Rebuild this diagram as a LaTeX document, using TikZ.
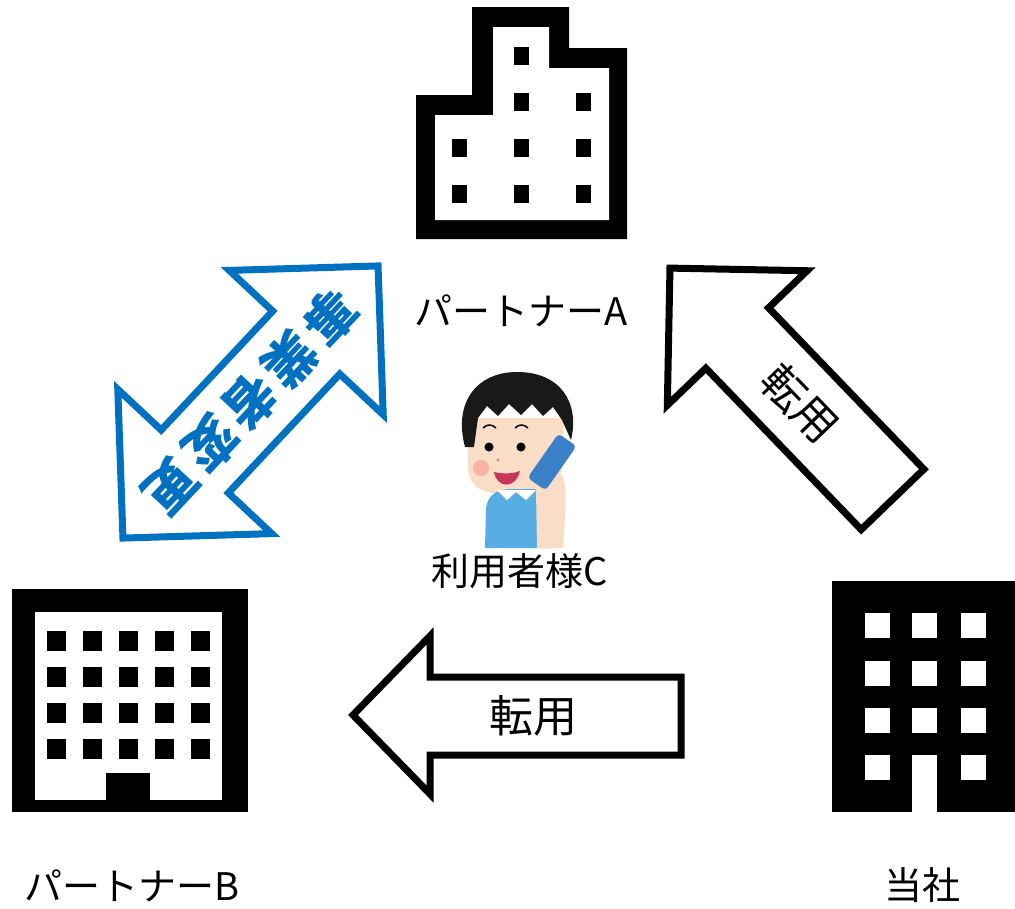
\documentclass[tikz,border=0pt]{standalone}
\usepackage{fontspec}
\usepackage{tikz}
\usetikzlibrary{positioning}

\newfontfamily\jpfont{Noto Sans CJK JP}

\definecolor{bizblue}{HTML}{0070C0}
\definecolor{skin}{HTML}{FADDC6}
\definecolor{cheek}{HTML}{F6B3A6}
\definecolor{shirt}{HTML}{56AEE2}
\definecolor{phoneblue}{HTML}{3A80C6}
\definecolor{mouth}{HTML}{C8375A}

\begin{document}
\begin{tikzpicture}[x=1pt,y=-1pt,line join=miter]

		\tikzstyle{blockarrow}=[draw=black,line width=7pt,fill=white]
		\tikzstyle{bluearrow}=[blockarrow,draw=bizblue]
		\tikzstyle{caption}=[inner sep=0pt,font=\jpfont\fontsize{38}{40}\selectfont]
		\tikzstyle{arrowtext}=[inner sep=0pt,font=\jpfont\fontsize{44}{46}\selectfont]
		\tikzstyle{bluetext}=[arrowtext,text=bizblue,font=\jpfont\bfseries\fontsize{52}{54}\selectfont]
		\tikzstyle{phone}=[rectangle,rounded corners=4pt,fill=phoneblue,
			minimum width=54pt,minimum height=22pt,inner sep=0pt]

		\useasboundingbox (0,0) rectangle (1015,908);

		% partner A
		\fill (416,239) -- (416,95) -- (472,95) -- (472,7) -- (569,7) -- (569,48)
			-- (627,48) -- (627,239) -- cycle;
		\fill[white] (435,220) -- (435,115) -- (493,115) -- (493,27) -- (549,27)
			-- (549,68) -- (609,68) -- (609,220) -- cycle;
		\foreach \x/\y in {521/56, 521/102, 583/102, 459/148, 521/148, 583/148,
			459/194, 521/194, 583/194}
			\fill (\x-7.5,\y-9) rectangle ++(15,18);
		\node [caption] (partnerA) at (521,311) {パートナーA};

		% partner B
		\fill (12,589) rectangle (248,812);
		\fill[white] (35,612) rectangle (222,800);
		\fill (106,773) rectangle (150,812);
		\foreach \x in {56,92,128,164,200}
			\foreach \y in {641,677,713,749}
				\fill (\x-9.5,\y-10) rectangle ++(19,20);
		\node [caption] (partnerB) at (132,886) {パートナーB};

		% our company
		\fill (832,581) rectangle (1015,812);
		\foreach \x in {877,924.5,973}
			\foreach \y in {625.5,673.5,720}
				\fill[white] (\x-12.5,\y-12.5) rectangle ++(25,25);
		\fill[white] (864.5,755) rectangle ++(25,25);
		\fill[white] (960.5,755) rectangle ++(25,25);
		\fill[white] (912,755) rectangle (937,812);
		\node [caption] (tousha) at (922,885) {当社};

		% user C on the phone
		\fill[skin] (468,418) -- (468,468) .. controls (469,491) and (490,495) .. (515,495)
			.. controls (544,495) and (561,487) .. (562,466) -- (564,418) -- cycle;
		\fill[cheek] (481,468) circle (8);
		\fill[cheek] (547,466) circle (8);
		\fill[black!90] (465,447) .. controls (453,402) and (477,372) .. (517,372)
			.. controls (560,372) and (580,402) .. (571,440) -- (562,420) -- (553,407)
			-- (543,416) -- (532,404) -- (521,415) -- (509,404) -- (498,416) -- (487,406)
			-- (478,418) -- (474,447) -- cycle;
		\draw[line width=1.5pt] (483,428) .. controls (487,424) and (492,424) .. (496,428);
		\draw[line width=1.5pt] (515,428) .. controls (519,424) and (524,424) .. (528,428);
		\fill (489,447) circle (4.5);
		\fill (521,447) circle (4.5);
		\fill[cheek!70!red] (498,460) circle (1.6);
		\fill[mouth] (494,472) .. controls (497,489) and (516,489) .. (520,471)
			.. controls (512,474) and (502,474) .. (494,472) -- cycle;
		\fill[shirt] (485,548) -- (486,508) .. controls (488,494) and (498,489) .. (512,489)
			-- (540,489) .. controls (550,492) and (553,502) .. (553,512) -- (553,548) -- cycle;
		\fill[white] (497,490) -- (507,500) -- (516,492) -- (526,500) -- (536,490) -- cycle;
		\fill[skin] (537,548) -- (536,490) .. controls (536,478) and (548,470) .. (560,474)
			.. controls (568,480) and (566,500) .. (563,548) -- cycle;
		\node [phone, rotate=55] (phone) at (552,462) {};
		\node [caption] (userC) at (520,571) {利用者様C};

		% transfer from our company to partner B
		\draw[blockarrow] (353,715) -- (430,636) -- (430,677) -- (681,677) -- (681,755)
			-- (430,755) -- (430,794) -- cycle;
		\node [arrowtext] (tenyouB) at (533,716) {転用};

		% transfer from our company to partner A
		\begin{scope}[shift={(781.25,383.75)},rotate=-46.1]
			\draw[blockarrow] (-160.5,0) -- (-63.5,-97) -- (-63.5,-43.5) -- (160.5,-43.5)
				-- (160.5,43.5) -- (-63.5,43.5) -- (-63.5,97) -- cycle;
			\node [arrowtext, rotate=-46.1] (tenyouA) at (27,0) {転用};
		\end{scope}

		% change of provider between A and B
		\begin{scope}[shift={(250.5,402)},rotate=46.85]
			\draw[bluearrow] (-186.5,0) -- (-81.5,-105.5) -- (-81.5,-46) -- (81.5,-46)
				-- (81.5,-105.5) -- (186.5,0) -- (81.5,105.5) -- (81.5,46) -- (-81.5,46)
				-- (-81.5,105.5) -- cycle;
			\node [bluetext, rotate=226.85] (change) at (0,0)
				{事\hspace{6pt}業\hspace{6pt}者\hspace{6pt}変\hspace{6pt}更};
		\end{scope}
	\end{tikzpicture}
\end{document}
